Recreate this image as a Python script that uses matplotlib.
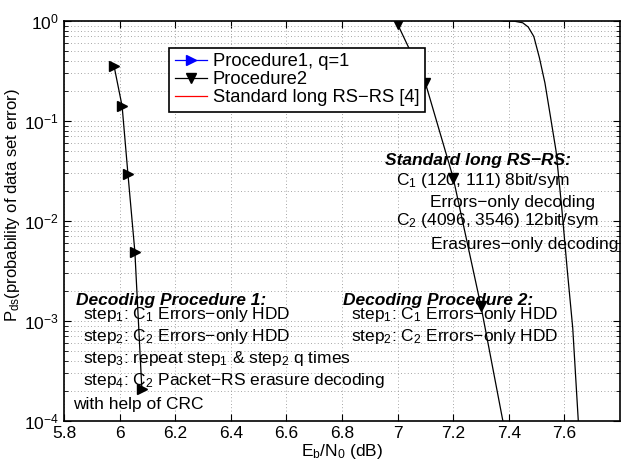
import matplotlib
matplotlib.use("Agg")
import matplotlib.pyplot as plt
from matplotlib.lines import Line2D
from matplotlib.ticker import LogLocator, FixedLocator

plt.rcParams['font.family'] = ['Liberation Sans', 'DejaVu Sans']
plt.rcParams['mathtext.fontset'] = 'custom'
plt.rcParams['mathtext.rm'] = 'Liberation Sans'
plt.rcParams['mathtext.it'] = 'Liberation Sans:italic'
plt.rcParams['mathtext.bf'] = 'Liberation Sans:bold'

# Data
proc1_x = [5.98, 6.009, 6.03, 6.055, 6.08]
proc1_y = [0.355, 0.141, 0.0295, 0.0049, 2.1e-4]

proc2_x = [7.0, 7.10, 7.20, 7.30, 7.40]
proc2_y = [0.93, 0.24, 0.027, 1.4e-3, 4.9e-5]

std_x = [7.38, 7.42, 7.45, 7.47, 7.49, 7.51, 7.53, 7.55, 7.57, 7.59, 7.61, 7.63, 7.65]
std_y = [1.0, 0.995, 0.96, 0.87, 0.70, 0.43, 0.24, 0.11, 0.05, 0.014, 0.0033, 8.5e-4, 1.0e-4]

legend_labels = ["Procedure1, q=1", "Procedure2", "Standard long RS\u2212RS [4]"]
x_ticks = [5.8, 6.0, 6.2, 6.4, 6.6, 6.8, 7.0, 7.2, 7.4, 7.6]
x_tick_labels = ["5.8", "6", "6.2", "6.4", "6.6", "6.8", "7", "7.2", "7.4", "7.6"]

FS = 12.5

fig = plt.figure(figsize=(6.29, 4.62), dpi=100)
ax = fig.add_axes([64/629, 1-421/462, (620-64)/629, (421-21)/462])

ax.semilogy(proc1_x, proc1_y, color='black', lw=0.9, marker='>', ms=6.5,
            markerfacecolor='black', markeredgecolor='black')
ax.semilogy(proc2_x, proc2_y, color='black', lw=0.9, marker='v', ms=6.5,
            markerfacecolor='black', markeredgecolor='black')
ax.semilogy(std_x, std_y, color='black', lw=0.9)

ax.set_xlim(5.8, 7.8)
ax.set_ylim(1e-4, 1)
ax.xaxis.set_major_locator(FixedLocator(x_ticks))
ax.set_xticklabels(x_tick_labels)
ax.yaxis.set_major_locator(LogLocator(base=10, numticks=10))
ax.yaxis.set_minor_locator(LogLocator(base=10, subs=range(2, 10), numticks=20))

ax.grid(True, which='major', axis='both', linestyle=(0, (1, 3)), color='#888888', lw=0.6)
ax.grid(True, which='minor', axis='y', linestyle=(0, (1, 3)), color='#888888', lw=0.6)
ax.tick_params(which='both', direction='in', top=True, right=True, labelsize=FS)
ax.tick_params(which='major', length=5)
ax.tick_params(which='minor', length=3)
for s in ax.spines.values():
    s.set_linewidth(1.2)

ax.set_xlabel(r"E$_{\mathrm{b}}$/N$_{\mathrm{0}}$ (dB)", fontsize=FS, labelpad=1)
ax.set_ylabel(r"P$_{\mathrm{ds}}$(probability of data set error)", fontsize=12)
ax.yaxis.set_label_coords(-0.075, 0.54)

handles = [
    Line2D([], [], color='blue', lw=0.9, marker='>', ms=6.5, markerfacecolor='blue'),
    Line2D([], [], color='black', lw=0.9, marker='v', ms=6.5, markerfacecolor='black'),
    Line2D([], [], color='red', lw=0.9),
]
leg = ax.legend(handles, legend_labels, loc='upper left',
                bbox_to_anchor=((169-64)/556, 1-(48-21)/400), fontsize=13.2,
                frameon=True, fancybox=False, framealpha=1, edgecolor='black',
                borderpad=0.3, labelspacing=0.05, handlelength=1.75, handletextpad=0.35,
                borderaxespad=0)
leg.get_frame().set_linewidth(1.2)

def px2data(px, py):
    return 5.8 + (px - 64) / 278.0, 10 ** (-(py - 21) / 100.0)

def txt(px, py, s, **kw):
    x, y = px2data(px, py)
    ax.text(x, y, s, ha='left', va='center', fontsize=FS, **kw)

txt(385, 160, "Standard long RS\u2212RS:", fontweight='bold', style='italic')
txt(396, 181, "C$_1$ (120, 111) 8bit/sym")
txt(430, 203, "Errors\u2212only decoding")
txt(396, 220, "C$_2$ (4096, 3546) 12bit/sym")
txt(431, 244, "Erasures\u2212only decoding")

txt(343, 300, "Decoding Procedure 2:", fontweight='bold', style='italic')
txt(351, 314, "step$_1$: C$_1$ Errors\u2212only HDD")
txt(351, 337, "step$_2$: C$_2$ Errors\u2212only HDD")

txt(76, 300, "Decoding Procedure 1:", fontweight='bold', style='italic')
txt(83, 314, "step$_1$: C$_1$ Errors\u2212only HDD")
txt(83, 337, "step$_2$: C$_2$ Errors\u2212only HDD")
txt(83, 359, "step$_3$: repeat step$_1$ & step$_2$ q times")
txt(83, 381, "step$_4$: C$_2$ Packet\u2212RS erasure decoding")
txt(73, 404, "with help of CRC")

fig.savefig("out.png", dpi=100)
